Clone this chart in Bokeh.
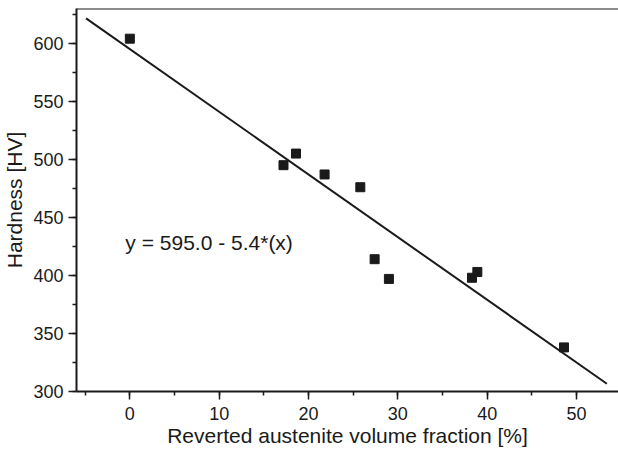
from bokeh.plotting import figure
from bokeh.models import ColumnDataSource, SingleIntervalTicker, Span, Range1d, Label
from bokeh.embed import file_html
from bokeh.resources import INLINE

# Data
fraction = [0.0, 17.2, 18.6, 21.8, 25.8, 27.4, 29.0, 38.3, 38.9, 48.6]
hardness = [604, 495, 505, 487, 476, 414, 397, 398, 403, 338]
fit_x = [-4.9, 53.4]
intercept = 595.0
slope = -5.4
fit_y = [intercept + slope * v for v in fit_x]
equation = "y = 595.0 - 5.4*(x)"
x_title = "Reverted austenite volume fraction [%]"
y_title = "Hardness [HV]"

FONT = "Liberation Sans"
INK = "#1a1a1a"

p = figure(width=618, height=449, output_backend="svg", toolbar_location=None,
           x_range=Range1d(-5.97, 54.7), y_range=Range1d(300, 630))
p.min_border_left = 76
p.min_border_right = 0
p.min_border_top = 8
p.min_border_bottom = 57
p.outline_line_color = None
p.xgrid.visible = False
p.ygrid.visible = False
p.background_fill_color = "white"
p.border_fill_color = "white"

p.line(fit_x, fit_y, line_color=INK, line_width=2)
src = ColumnDataSource(dict(x=fraction, y=hardness))
p.scatter("x", "y", source=src, marker="square", size=9, fill_color=INK, line_color=INK)

p.add_layout(Span(location=630, dimension="width", line_color=INK, line_width=2))

p.add_layout(Label(x=-0.5, y=428, text=equation, text_font=FONT, text_font_size="21px",
                   text_color=INK, text_baseline="middle"))

p.xaxis.ticker = SingleIntervalTicker(interval=10, num_minor_ticks=2)
p.yaxis.ticker = SingleIntervalTicker(interval=50, num_minor_ticks=2)

for ax in (p.xaxis[0], p.yaxis[0]):
    ax.axis_line_color = INK
    ax.axis_line_width = 2
    ax.major_tick_line_color = INK
    ax.minor_tick_line_color = INK
    ax.major_tick_line_width = 1.5
    ax.minor_tick_line_width = 1.5
    ax.major_tick_in = 0
    ax.minor_tick_in = 0
    ax.major_label_text_font = FONT
    ax.major_label_text_font_size = "18px"
    ax.major_label_text_color = INK
    ax.axis_label_text_font = FONT
    ax.axis_label_text_font_size = "21px"
    ax.axis_label_text_font_style = "normal"
    ax.axis_label_text_color = INK

p.xaxis.major_tick_out = 8
p.xaxis.minor_tick_out = 4
p.yaxis.major_tick_out = 8
p.yaxis.minor_tick_out = 4
p.xaxis.major_label_standoff = 7
p.yaxis.major_label_standoff = 5
p.xaxis.axis_label_standoff = 1
p.yaxis.axis_label_standoff = 4
p.xaxis.axis_label = x_title
p.yaxis.axis_label = y_title

open("out.html", "w").write(file_html(p, INLINE))
